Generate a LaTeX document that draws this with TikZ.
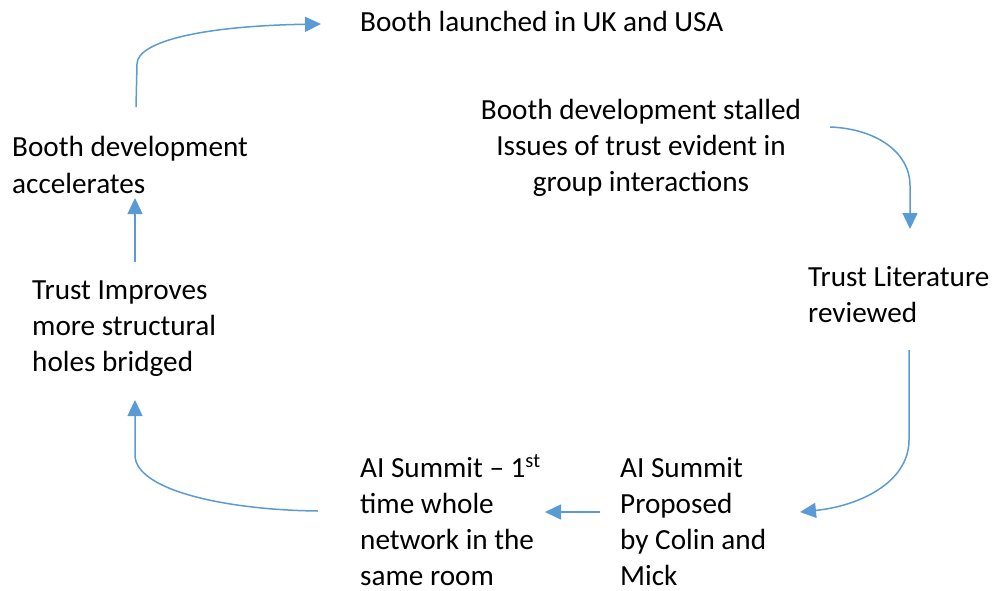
\documentclass[tikz,border=0pt]{standalone}
\usepackage{fontspec}
\setmainfont{Carlito}
\usetikzlibrary{arrows.meta}
\begin{document}
\begin{tikzpicture}[x=1pt,y=-1pt,
  lbl/.style={inner sep=0pt,anchor=base west,align=left,font=\fontsize{29.2}{36}\selectfont},
  arr/.style={draw={rgb,255:red,91;green,155;blue,213},line width=1.5pt,
    -{Triangle[length=16pt,width=15pt]}}]
\useasboundingbox (0,0) rectangle (998,591);
% stages of the cycle (each placed at the baseline of its last line)
\node[lbl] (launch) at (360,32) {Booth launched in UK and USA};
\node[lbl,align=center,anchor=base] (stall) at (641,191) {Booth development stalled\\Issues of trust evident in\\group interactions};
\node[lbl] (review) at (808,322) {Trust Literature\\reviewed};
\node[lbl] (propose) at (620,585) {AI Summit\\Proposed\\by Colin and\\Mick};
\node[lbl] (summit) at (360,585) {AI Summit -- 1\textsuperscript{st}\\time whole\\network in the\\same room};
\node[lbl] (improve) at (32,371) {Trust Improves\\more structural\\holes bridged};
\node[lbl] (accel) at (12,193) {Booth development\\accelerates};
% connector end points
\coordinate (a1) at (136,107);
\coordinate (a2) at (321,24);
\coordinate (b1) at (830,127);
\coordinate (b2) at (910,229);
\coordinate (c1) at (909,350);
\coordinate (c2) at (800,512);
\coordinate (d1) at (600,512);
\coordinate (d2) at (545,512);
\coordinate (e1) at (318,511);
\coordinate (e2) at (135,400);
\coordinate (f1) at (135,262);
\coordinate (f2) at (135,198);
% connectors
\draw[arr] (a1) -- (137,64) .. controls (137,42) and (200,26) .. (a2);
\draw[arr] (b1) .. controls (880,129) and (910,155) .. (910,185) -- (b2);
\draw[arr] (c1) -- (909,440) .. controls (909,482) and (860,506) .. (c2);
\draw[arr] (d1) -- (d2);
\draw[arr] (e1) .. controls (225,510) and (135,490) .. (135,455) -- (e2);
\draw[arr] (f1) -- (f2);
\end{tikzpicture}
\end{document}
